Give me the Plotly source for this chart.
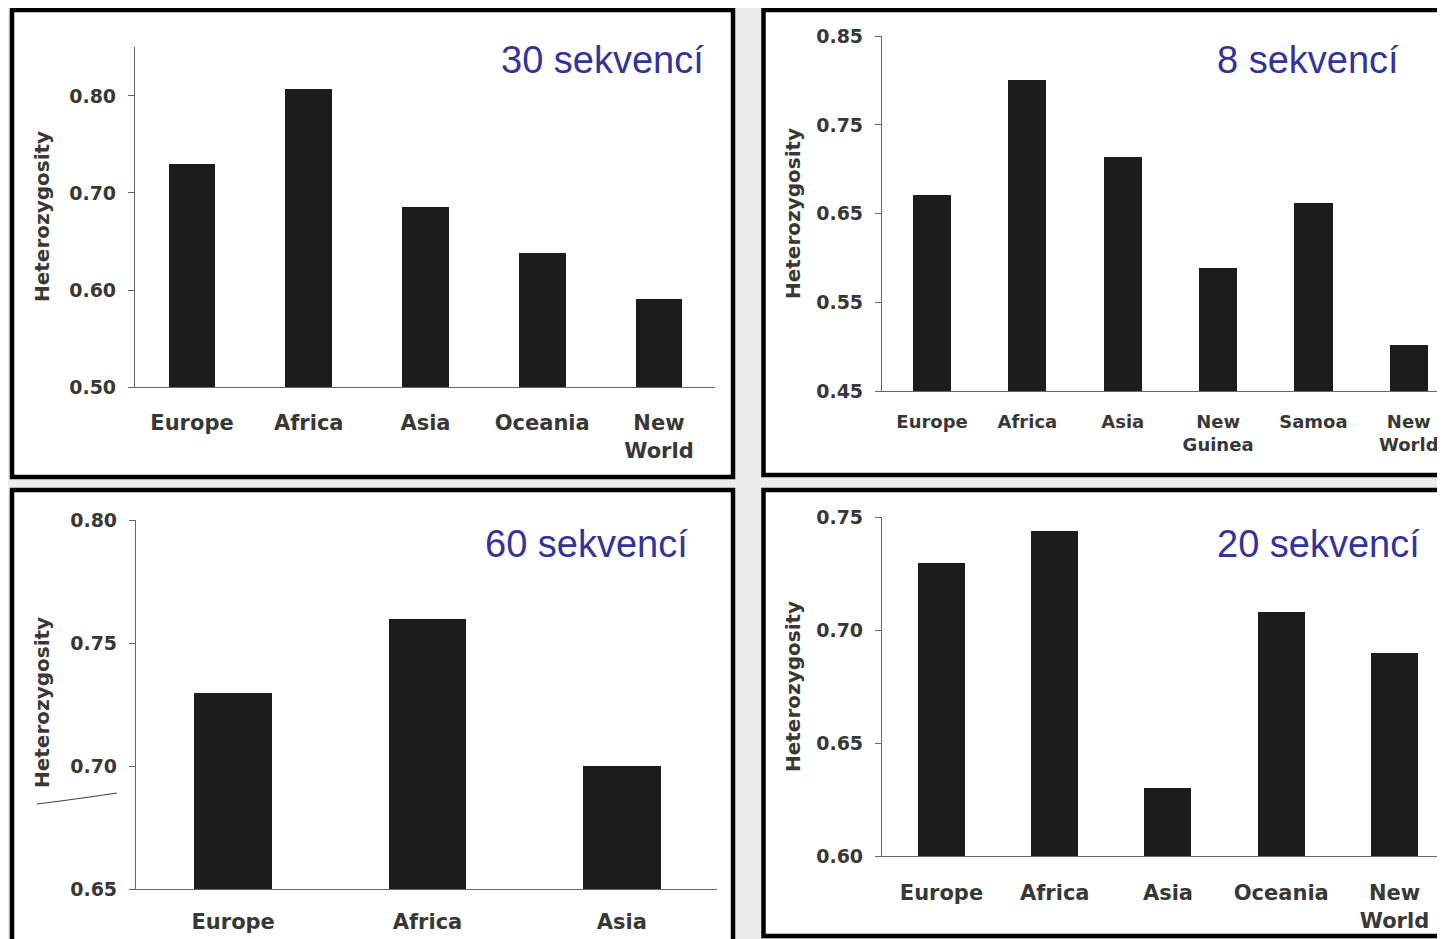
import plotly.graph_objects as go

# ---- data ----
cats_30 = ["Europe", "Africa", "Asia", "Oceania", "New<br>World"]
het_30 = [0.730, 0.807, 0.686, 0.638, 0.591]

cats_8 = ["Europe", "Africa", "Asia", "New<br>Guinea", "Samoa", "New<br>World"]
het_8 = [0.671, 0.801, 0.714, 0.589, 0.662, 0.502]

cats_60 = ["Europe", "Africa", "Asia"]
het_60 = [0.730, 0.760, 0.700]

cats_20 = ["Europe", "Africa", "Asia", "Oceania", "New<br>World"]
het_20 = [0.730, 0.744, 0.630, 0.708, 0.690]

ticks_30 = [0.50, 0.60, 0.70, 0.80]
ticks_8 = [0.45, 0.55, 0.65, 0.75, 0.85]
ticks_60 = [0.65, 0.70, 0.75, 0.80]
ticks_20 = [0.60, 0.65, 0.70, 0.75]

titles = ["30 sekvencí", "8 sekvencí", "60 sekvencí", "20 sekvencí"]
ytitle = "Heterozygosity"

# page body has an 8px margin; figure sized to fit the remaining viewport
OFF = 8
W, H = 1445 - OFF, 939 - OFF
def px(x):
    return (x - OFF) / W
def py(y):
    return 1 - (y - OFF) / H

BAR = "#1c1c1c"
TXT = "#383838"
AX = "#666666"
FONT = "DejaVu Sans"

fig = go.Figure()

panels = [
    # cats, vals, ticks, xdom(px), ydom(px: top,bottom), xrange, yrange, xfont, yfont, barwidth, standoff
    (cats_30, het_30, ticks_30, (135, 715), (47, 387), [-0.488, 4.48], [0.50, 0.8505], 21, 19, 0.40, 17),
    (cats_8, het_8, ticks_8, (882, 1445), (36, 391), [-0.525, 5.38], [0.45, 0.8503], 18, 19, 0.40, 14),
    (cats_60, het_60, ticks_60, (136, 717), (520, 889), [-0.50, 2.49], [0.65, 0.8003], 21, 19, 0.40, 14),
    (cats_20, het_20, ticks_20, (882, 1445), (517, 856), [-0.525, 4.446], [0.60, 0.7503], 21, 19, 0.415, 18),
]

for i, (cats, vals, tks, xd, yd, xr, yr, xfs, yfs, bw, so) in enumerate(panels):
    n = "" if i == 0 else str(i + 1)
    fig.add_trace(go.Bar(
        x=list(range(len(cats))), y=vals, width=bw,
        marker=dict(color=BAR, line=dict(width=0)),
        xaxis="x" + n, yaxis="y" + n, showlegend=False, hoverinfo="skip",
    ))
    fig.layout["xaxis" + n] = dict(
        domain=[max(px(xd[0]), 0), min(px(xd[1]), 1.0)], range=xr, anchor="y" + n,
        tickvals=list(range(len(cats))), ticktext=cats, automargin=False,
        showline=True, linecolor=AX, linewidth=1.2, showgrid=False, zeroline=False,
        ticks="", ticklabelstandoff=so,
        tickfont=dict(family=FONT, size=xfs, color=TXT, weight="bold"),
        fixedrange=True,
    )
    fig.layout["yaxis" + n] = dict(
        domain=[max(py(yd[1]), 0), min(py(yd[0]), 1)], range=yr, anchor="x" + n,
        tickvals=tks, ticktext=[f"{t:.2f}" for t in tks], automargin=False,
        showline=True, linecolor=AX, linewidth=1.2, showgrid=False, zeroline=False,
        ticks="outside", ticklen=6, tickcolor=AX, tickwidth=1, ticklabelstandoff=8,
        tickfont=dict(family=FONT, size=yfs, color=TXT, weight="bold"),
        fixedrange=True,
    )

# panel frames
frames = [(12, 10, 733, 477), (763.5, 10, 1460, 475), (12, 490, 733, 960), (763.5, 490, 1460, 936)]
shapes = []
for (x0, y0, x1, y1) in frames:
    shapes.append(dict(type="rect", xref="paper", yref="paper", layer="below",
                       x0=px(x0), x1=px(x1), y0=py(y1), y1=py(y0),
                       fillcolor="white", line=dict(color="black", width=4.5)))
# small stray stroke in lower-left panel
shapes.append(dict(type="path", xref="paper", yref="paper", layer="above",
                   path=f"M {px(37)},{py(804)} Q {px(70)},{py(800)} {px(117)},{py(793)}",
                   line=dict(color="#444", width=1.2)))

annotations = []
# titles
tpos = [(706, 60), (1401, 60), (690, 544), (1422, 544)]
for t, (x, y) in zip(titles, tpos):
    annotations.append(dict(text=t, x=px(x), y=py(y), xref="paper", yref="paper",
                            xanchor="right", yanchor="middle", showarrow=False,
                            font=dict(family="Liberation Sans", size=38, color="#333399")))
# y titles
ypos = [(42, 217), (793, 214), (42, 703), (793, 687)]
for (x, y) in ypos:
    annotations.append(dict(text=ytitle, x=px(x), y=py(y), xref="paper", yref="paper",
                            xanchor="center", yanchor="middle", showarrow=False, textangle=-90,
                            font=dict(family=FONT, size=20, color=TXT, weight="bold")))

fig.update_layout(
    width=W, height=H, margin=dict(l=0, r=0, t=0, b=0, autoexpand=False),
    paper_bgcolor="#ececec", plot_bgcolor="rgba(0,0,0,0)",
    shapes=shapes, annotations=annotations, bargap=0,
)

fig.write_html("out.html", config={"displayModeBar": False})
